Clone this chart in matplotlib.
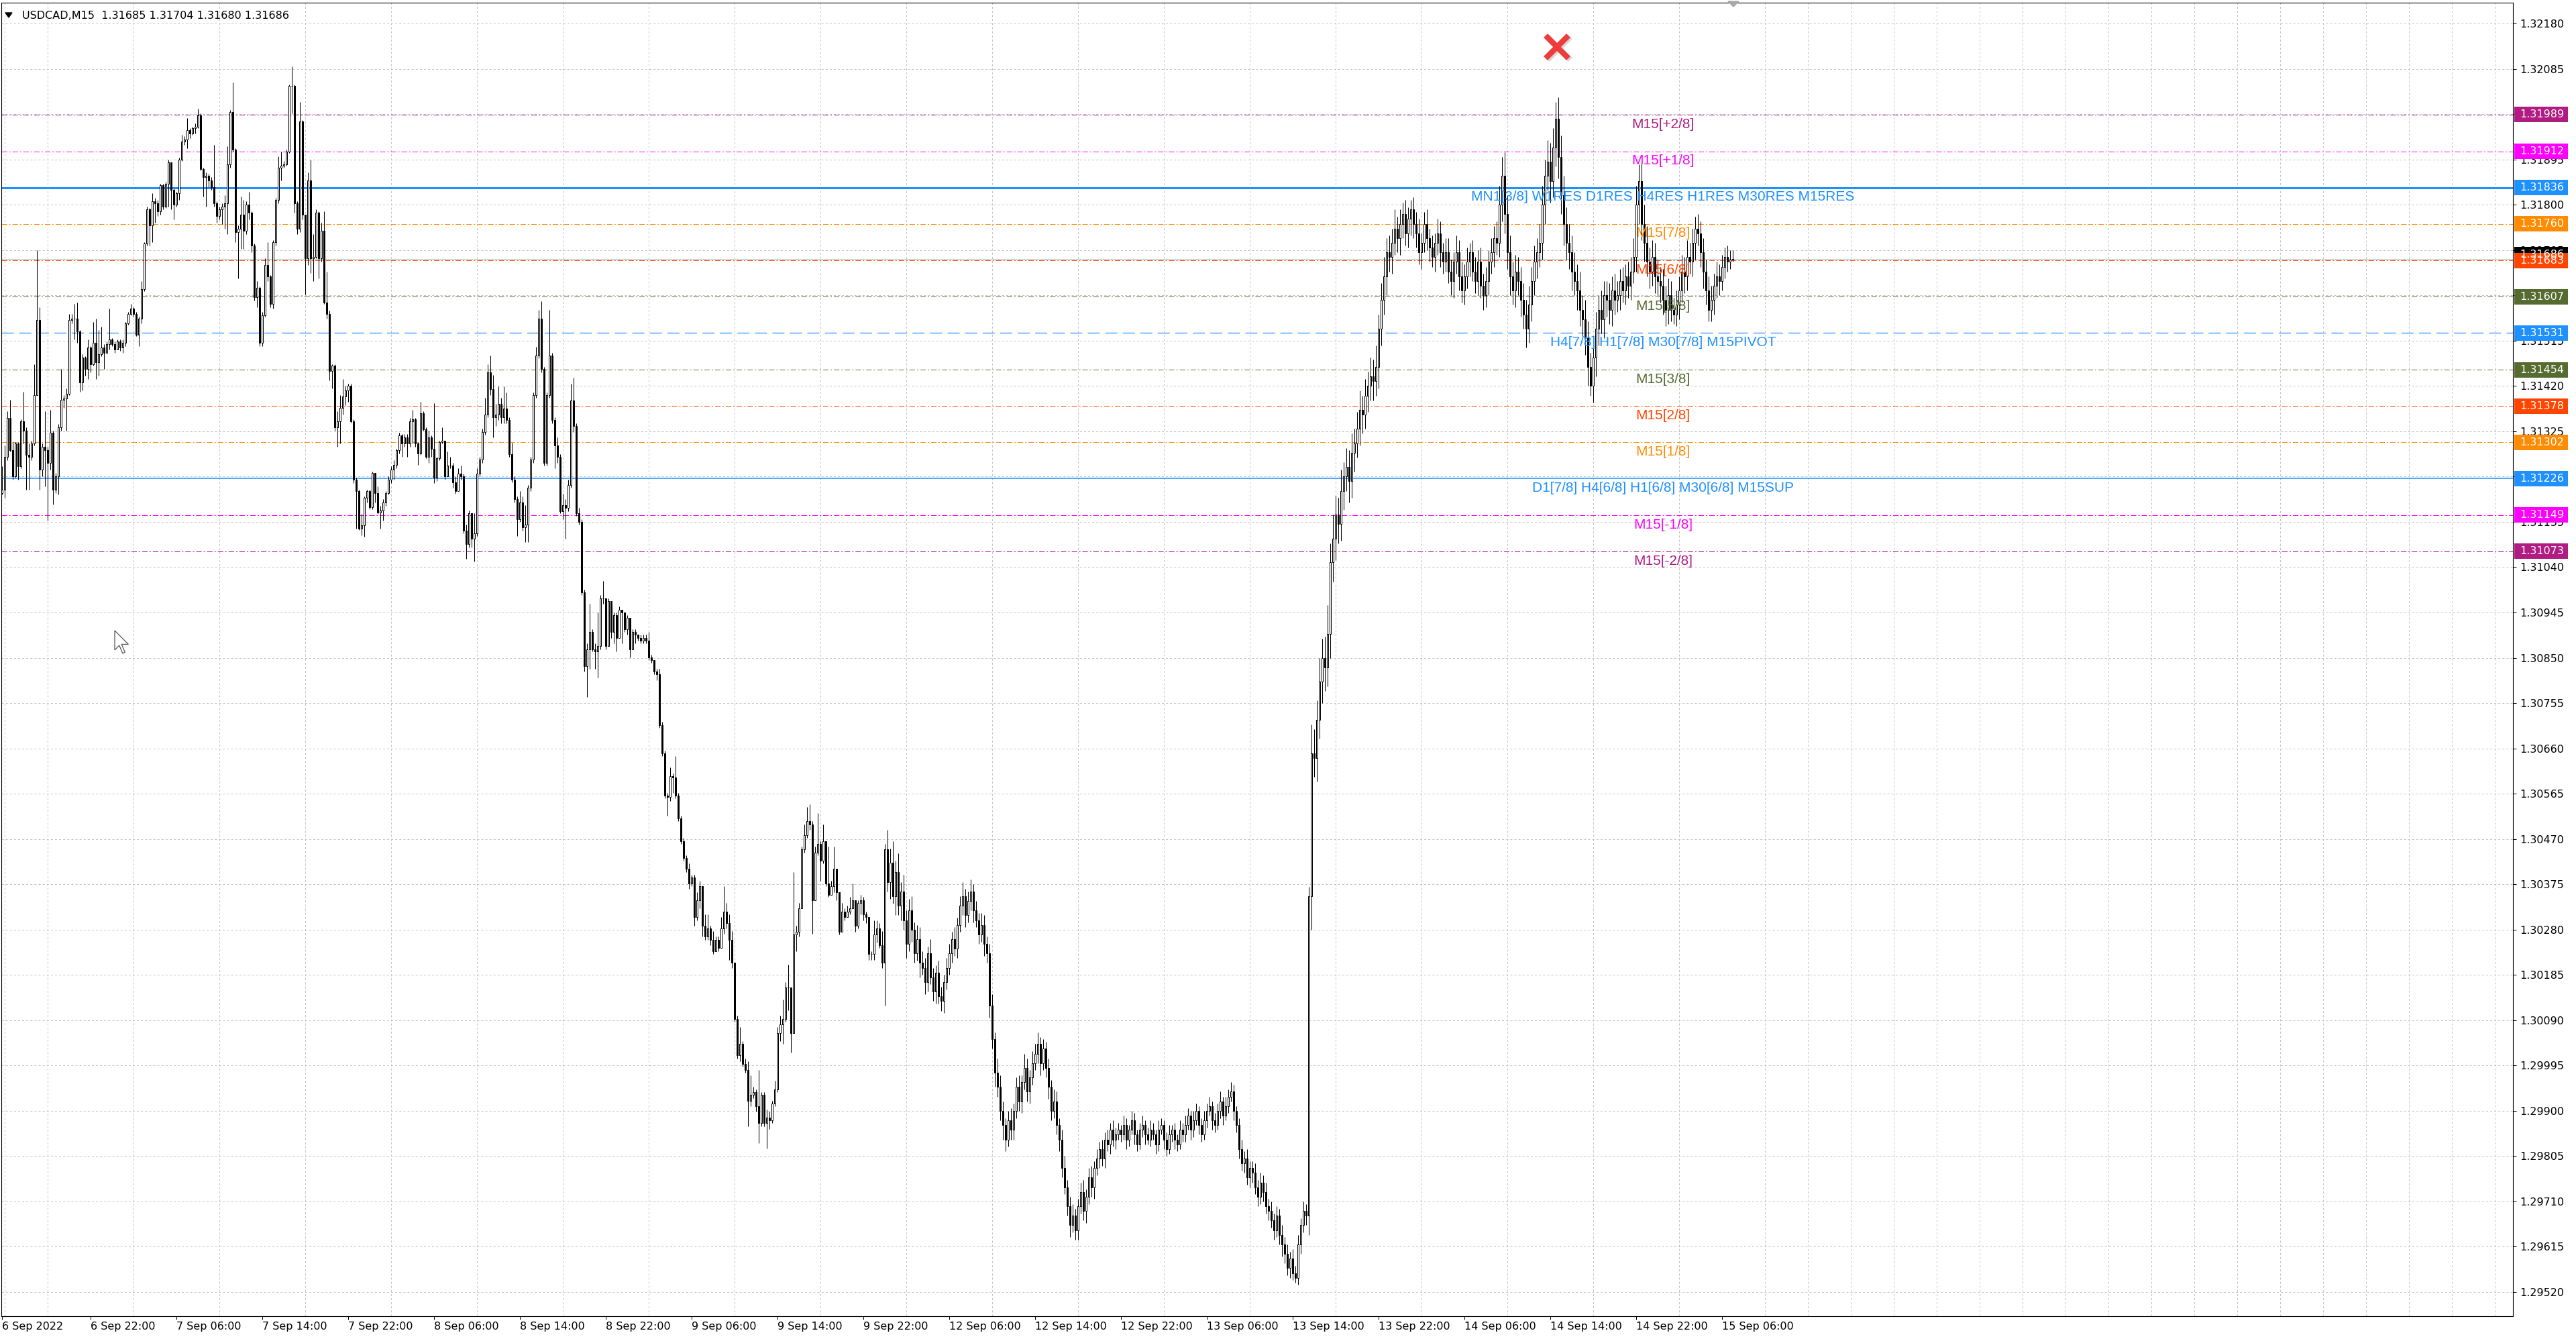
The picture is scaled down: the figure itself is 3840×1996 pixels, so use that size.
import numpy as np
import matplotlib.pyplot as plt
from matplotlib.patches import Rectangle, Polygon
import matplotlib.transforms as mtransforms

plt.rcParams['lines.scale_dashes'] = False

# prices are stored in points (0.00001) above BASE
BASE = 1.29
first_open = 2196

# 6 Sep 13:45 .. 8 Sep 06:45
seg1_close = [2203, 2271, 2353, 2285, 2230, 2299, 2251, 2346, 2326, 2275,
              2271, 2299, 2401, 2558, 2244, 2292, 2285, 2258, 2322, 2203,
              2230, 2333, 2391, 2394, 2404, 2558, 2561, 2561, 2534, 2428,
              2479, 2455, 2500, 2466, 2510, 2469, 2486, 2500, 2490, 2507,
              2517, 2507, 2496, 2513, 2500, 2510, 2551, 2571, 2582, 2571,
              2527, 2561, 2623, 2718, 2790, 2756, 2807, 2803, 2786, 2841,
              2796, 2844, 2889, 2831, 2800, 2824, 2895, 2933, 2936, 2957,
              2950, 2960, 2964, 2987, 2875, 2858, 2861, 2851, 2837, 2803,
              2776, 2790, 2796, 2803, 2885, 2994, 2916, 2742, 2749, 2779,
              2745, 2800, 2783, 2715, 2606, 2626, 2510, 2568, 2674, 2650,
              2592, 2721, 2810, 2878, 2882, 2885, 2912, 3049, 3049, 2803,
              2749, 2974, 2779, 2687, 2851, 2687, 2691, 2783, 2687, 2745,
              2595, 2571, 2452, 2462, 2333, 2346, 2374, 2398, 2411, 2421,
              2346, 2224, 2200, 2121, 2128, 2186, 2200, 2166, 2237, 2196,
              2155, 2159, 2176, 2196, 2224, 2244, 2254, 2285, 2316, 2299,
              2312, 2299, 2346, 2350, 2299, 2278, 2363, 2329, 2271, 2312,
              2288, 2227, 2268, 2302, 2305]
seg1_high = [2251, 2295, 2367, 2391, 2302, 2302, 2302, 2350, 2408, 2333,
             2299, 2305, 2466, 2704, 2585, 2299, 2367, 2292, 2370, 2326,
             2237, 2340, 2455, 2401, 2415, 2571, 2571, 2592, 2595, 2537,
             2486, 2483, 2517, 2503, 2554, 2561, 2537, 2544, 2507, 2513,
             2582, 2520, 2513, 2517, 2517, 2517, 2554, 2575, 2592, 2585,
             2575, 2565, 2640, 2721, 2796, 2793, 2824, 2814, 2810, 2844,
             2844, 2848, 2895, 2889, 2834, 2827, 2899, 2947, 2943, 2981,
             2960, 2964, 2970, 3001, 2991, 2878, 2868, 2865, 2858, 2926,
             2807, 2796, 2803, 2820, 2923, 2998, 3056, 2919, 2756, 2817,
             2810, 2807, 2827, 2786, 2718, 2640, 2629, 2575, 2687, 2721,
             2653, 2725, 2814, 2902, 2912, 2892, 2916, 3052, 3090, 3052,
             2807, 3015, 2977, 2779, 2868, 2895, 2738, 2790, 2786, 2762,
             2786, 2660, 2578, 2466, 2466, 2367, 2401, 2435, 2421, 2425,
             2425, 2350, 2227, 2203, 2152, 2189, 2203, 2203, 2241, 2230,
             2210, 2169, 2183, 2200, 2230, 2251, 2264, 2288, 2322, 2319,
             2319, 2319, 2353, 2370, 2353, 2302, 2387, 2367, 2333, 2326,
             2316, 2384, 2271, 2305, 2333]
seg1_low = [2193, 2186, 2264, 2282, 2224, 2227, 2224, 2247, 2299, 2203,
            2203, 2264, 2295, 2401, 2203, 2230, 2210, 2138, 2244, 2172,
            2196, 2193, 2326, 2374, 2326, 2401, 2551, 2517, 2510, 2408,
            2411, 2442, 2435, 2449, 2462, 2435, 2442, 2483, 2455, 2493,
            2496, 2503, 2490, 2500, 2493, 2490, 2503, 2548, 2568, 2565,
            2524, 2503, 2551, 2619, 2715, 2715, 2721, 2762, 2776, 2779,
            2790, 2793, 2796, 2790, 2769, 2796, 2810, 2892, 2926, 2919,
            2940, 2947, 2950, 2960, 2872, 2817, 2796, 2837, 2831, 2796,
            2762, 2769, 2759, 2749, 2738, 2878, 2912, 2721, 2646, 2708,
            2708, 2738, 2769, 2701, 2599, 2585, 2503, 2503, 2565, 2640,
            2585, 2582, 2715, 2803, 2851, 2878, 2882, 2909, 2991, 2783,
            2738, 2742, 2769, 2612, 2674, 2657, 2640, 2687, 2646, 2681,
            2592, 2561, 2432, 2415, 2326, 2292, 2299, 2360, 2380, 2387,
            2343, 2217, 2121, 2118, 2107, 2104, 2176, 2162, 2162, 2176,
            2152, 2121, 2138, 2169, 2193, 2217, 2224, 2247, 2278, 2271,
            2292, 2271, 2292, 2299, 2292, 2254, 2275, 2326, 2268, 2258,
            2271, 2217, 2220, 2264, 2299]

# 8 Sep 07:00 .. 9 Sep 23:45
seg2_close = [2230, 2253, 2253, 2218, 2200, 2236, 2230, 2117, 2088, 2153,
              2099, 2111, 2236, 2265, 2324, 2360, 2449, 2413, 2354, 2360,
              2383, 2354, 2372, 2348, 2277, 2224, 2182, 2141, 2176, 2123,
              2129, 2206, 2265, 2401, 2484, 2561, 2455, 2259, 2401, 2484,
              2348, 2295, 2271, 2158, 2170, 2164, 2212, 2389, 2336, 2153,
              2135, 1987, 1833, 1868, 1904, 1868, 1863, 1874, 1975, 1975,
              1874, 1969, 1904, 1940, 1892, 1951, 1945, 1910, 1934, 1868,
              1904, 1898, 1892, 1886, 1892, 1886, 1851, 1845, 1821, 1815,
              1709, 1650, 1561, 1558, 1602, 1599, 1561, 1513, 1466, 1430,
              1407, 1377, 1389, 1306, 1342, 1371, 1288, 1265, 1282, 1259,
              1235, 1259, 1241, 1282, 1318, 1294, 1259, 1211, 1093, 1016,
              1040, 998, 986, 921, 933, 939, 909, 874, 933, 874,
              886, 880, 915, 945, 1063, 1081, 1093, 1158, 1158, 1063,
              1270, 1276, 1324, 1448, 1478, 1507, 1501, 1342, 1442, 1460,
              1425, 1466, 1377, 1353, 1371, 1407, 1359, 1276, 1318, 1306,
              1318, 1324, 1342, 1288, 1336, 1342, 1312, 1306, 1229, 1229,
              1270, 1282, 1247, 1211]
seg2_high = [2265, 2283, 2271, 2259, 2230, 2247, 2253, 2236, 2129, 2159,
             2153, 2153, 2247, 2271, 2330, 2395, 2466, 2484, 2443, 2383,
             2419, 2395, 2419, 2407, 2354, 2301, 2230, 2188, 2200, 2188,
             2170, 2212, 2271, 2407, 2502, 2579, 2597, 2460, 2407, 2579,
             2490, 2354, 2312, 2277, 2194, 2182, 2224, 2425, 2437, 2342,
             2164, 2141, 1993, 1880, 1963, 1910, 1880, 1945, 1981, 2011,
             1975, 1975, 1969, 1945, 1945, 1957, 1951, 1945, 1940, 1916,
             1910, 1910, 1898, 1898, 1898, 1898, 1904, 1857, 1839, 1827,
             1827, 1715, 1655, 1567, 1620, 1608, 1644, 1567, 1519, 1472,
             1436, 1419, 1395, 1395, 1359, 1383, 1359, 1312, 1312, 1288,
             1277, 1265, 1265, 1306, 1371, 1336, 1312, 1277, 1211, 1099,
             1075, 1046, 1010, 1004, 975, 951, 945, 986, 939, 939,
             903, 898, 921, 963, 1075, 1099, 1134, 1170, 1206, 1134,
             1401, 1288, 1336, 1454, 1501, 1537, 1543, 1507, 1454, 1525,
             1466, 1501, 1466, 1454, 1383, 1454, 1407, 1359, 1336, 1324,
             1330, 1348, 1377, 1342, 1342, 1353, 1348, 1318, 1306, 1235,
             1300, 1300, 1294, 1277]
seg2_low = [2224, 2230, 2247, 2206, 2194, 2200, 2224, 2111, 2058, 2082,
            2082, 2052, 2105, 2230, 2259, 2318, 2354, 2401, 2312, 2336,
            2348, 2342, 2342, 2342, 2271, 2218, 2176, 2105, 2135, 2117,
            2093, 2093, 2200, 2259, 2395, 2478, 2449, 2253, 2253, 2395,
            2342, 2247, 2259, 2153, 2141, 2099, 2158, 2206, 2324, 2147,
            2129, 1981, 1821, 1768, 1827, 1863, 1827, 1809, 1868, 1963,
            1868, 1880, 1892, 1880, 1863, 1928, 1880, 1904, 1898, 1851,
            1874, 1880, 1886, 1880, 1880, 1880, 1845, 1839, 1815, 1803,
            1703, 1644, 1555, 1519, 1549, 1567, 1555, 1507, 1460, 1424,
            1401, 1365, 1371, 1288, 1300, 1324, 1265, 1259, 1259, 1247,
            1229, 1241, 1235, 1241, 1271, 1282, 1217, 1199, 1087, 1010,
            1004, 992, 980, 868, 909, 927, 898, 832, 868, 868,
            821, 862, 874, 909, 939, 1046, 1040, 1087, 1111, 1022,
            1063, 1235, 1265, 1324, 1442, 1472, 1489, 1271, 1377, 1436,
            1383, 1419, 1371, 1348, 1353, 1359, 1342, 1270, 1276, 1300,
            1306, 1312, 1324, 1276, 1282, 1312, 1300, 1294, 1217, 1217,
            1217, 1253, 1241, 1199]

# 12 Sep 00:00 .. 15 Sep 07:00 (closes, then shadow lengths above / below the body)
seg3_close = [1449, 1380, 1420, 1350, 1400, 1330, 1360,
              1300, 1250, 1320, 1280, 1230, 1260, 1210,
              1200, 1170, 1230, 1180, 1150, 1190, 1140, 1130, 1170, 1200,
              1230, 1260, 1240, 1290,
              1330, 1350, 1310, 1340, 1360, 1320,
              1300, 1270, 1290, 1250, 1230,
              1120, 1050, 980, 950,
              900, 870, 840, 880, 860,
              900, 950, 920, 960, 990, 940, 970, 1000,
              1020, 1040, 1000, 1030, 990,
              950, 900, 920, 870, 840,
              780, 740, 700, 660, 680, 650,
              700, 730, 690, 720, 760, 740, 780, 800,
              820, 800, 840, 830, 860, 840, 850,
              860, 850, 870, 840, 860, 880, 850, 830, 860, 870, 850, 840, 860,
              850, 830, 860, 870, 840, 820, 850, 860, 840, 830, 860, 850,
              870, 890, 860, 880, 900, 870, 850, 880, 900, 910, 880, 870,
              900, 920, 890, 910, 930, 940, 900, 870,
              820, 790, 800, 760, 780,
              770, 740, 720, 750, 730, 700,
              690, 670, 650, 680, 640, 620,
              600, 570, 590, 560, 550,
              620, 660, 690, 680,
              1350, 1650, 1640, 1720, 1800, 1850, 1830, 1900, 2050, 2100,
              2150, 2130, 2200, 2230, 2250, 2220, 2280, 2300, 2330, 2370,
              2360, 2400, 2420, 2440, 2430, 2460, 2540, 2600, 2650, 2700,
              2690, 2720, 2750, 2730, 2760, 2780, 2740, 2770, 2790, 2760,
              2740, 2700, 2720, 2760, 2730, 2710,
              2690, 2720, 2740, 2700, 2680, 2700,
              2660, 2640, 2680, 2700, 2650, 2620,
              2650, 2680, 2700, 2660, 2640, 2680,
              2630, 2610, 2640,
              2680, 2700, 2730, 2720,
              2800, 2860, 2780,
              2700, 2650, 2620, 2660, 2640,
              2600, 2570, 2540, 2590,
              2640, 2680, 2700, 2720,
              2800, 2860, 2890, 2850,
              2920, 2980, 2900,
              2820, 2760, 2720,
              2700, 2660, 2640,
              2620, 2580, 2560,
              2520, 2460, 2420, 2480,
              2540, 2580, 2560, 2610,
              2600, 2580, 2620, 2600,
              2610, 2640, 2620, 2650, 2630,
              2660, 2690,
              2800, 2850,
              2760, 2720,
              2680, 2660, 2690, 2650, 2640,
              2630, 2600, 2580, 2610,
              2580, 2570, 2590,
              2620, 2660, 2650, 2690, 2680,
              2720, 2750, 2740, 2700,
              2660, 2620, 2580,
              2600, 2630, 2650, 2640,
              2670, 2690, 2680, 2685, 2686]
seg3_upper = [10, 40, 30, 45, 25, 40, 20,
              35, 20, 25, 30, 15, 30, 25,
              25, 20, 15, 30, 20, 15, 25, 20, 15, 20,
              20, 15, 25, 15,
              20, 30, 15, 20, 25, 15,
              20, 15, 25, 20, 15,
              20, 25, 15, 30,
              25, 20, 15, 20, 25,
              15, 20, 25, 15, 30, 20, 15, 25,
              20, 25, 15, 20, 15,
              20, 15, 25, 20, 15,
              20, 25, 15, 20, 25, 15,
              15, 20, 25, 15, 20, 25, 15, 20,
              15, 20, 15, 20, 15, 20, 15,
              15, 10, 20, 15, 10, 20, 15, 10, 15, 20, 10, 15, 20,
              15, 10, 20, 15, 10, 15, 20, 10, 15, 10, 20, 15,
              20, 15, 10, 20, 15, 10, 15, 20, 15, 20, 10, 15,
              15, 20, 10, 20, 15, 20, 15, 10,
              15, 20, 15, 20, 15,
              15, 20, 15, 20, 15, 20,
              15, 20, 15, 20, 15, 20,
              15, 20, 15, 20, 15,
              20, 15, 20, 15,
              20, 60, 50, 40, 50, 40, 45, 60, 40, 50,
              40, 35, 45, 30, 40, 35, 40, 30, 35, 40,
              30, 35, 30, 40, 35, 45, 30, 35, 40, 30,
              35, 30, 40, 25, 30, 25, 30, 25, 20, 25,
              25, 30, 20, 25, 30, 20,
              25, 20, 30, 25, 20, 30,
              30, 25, 20, 35, 25, 30,
              25, 30, 20, 25, 30, 25,
              30, 25, 30,
              25, 30, 25, 35,
              40, 40, 50,
              40, 35, 30, 35, 30,
              30, 35, 30, 40,
              30, 35, 30, 40,
              40, 35, 45, 40,
              40, 35, 45,
              45, 40, 35,
              40, 35, 40,
              35, 40, 30,
              40, 35, 30, 40,
              35, 30, 40, 30,
              30, 35, 30, 35,
              30, 25, 30, 25, 30,
              30, 40,
              40, 35,
              45, 40,
              35, 30, 35, 30, 35,
              30, 35, 30, 35,
              30, 25, 30,
              30, 35, 30, 35, 30,
              30, 25, 30, 25,
              30, 25, 30,
              30, 25, 30, 25,
              25, 20, 25, 19, 18]
seg3_lower = [90, 20, 35, 15, 40, 20, 30,
              20, 30, 15, 25, 20, 15, 30,
              15, 25, 20, 15, 20, 25, 15, 20, 25, 15,
              15, 20, 15, 20,
              15, 20, 25, 15, 20, 25,
              15, 20, 15, 25, 20,
              25, 20, 30, 20,
              20, 30, 25, 15, 20,
              20, 15, 20, 25, 15, 20, 25, 15,
              15, 20, 25, 15, 20,
              25, 20, 15, 20, 25,
              20, 15, 20, 25, 15, 20,
              20, 15, 20, 25, 15, 20, 25, 15,
              20, 15, 20, 15, 20, 15, 20,
              10, 15, 10, 20, 15, 10, 20, 15, 10, 15, 20, 10, 15,
              10, 20, 15, 10, 20, 15, 10, 15, 20, 15, 10, 15,
              15, 10, 20, 15, 10, 20, 15, 10, 15, 10, 20, 15,
              10, 15, 20, 10, 15, 10, 20, 15,
              20, 15, 20, 15, 20,
              20, 15, 20, 15, 20, 15,
              20, 15, 20, 15, 20, 25,
              20, 15, 20, 15, 10,
              15, 20, 15, 20,
              40, 70, 40, 50, 40, 45, 50, 40, 50, 40,
              45, 40, 35, 40, 30, 45, 35, 40, 30, 35,
              40, 30, 35, 30, 40, 30, 45, 35, 30, 40,
              30, 35, 25, 30, 35, 30, 25, 30, 35, 30,
              30, 25, 35, 20, 25, 30,
              20, 30, 25, 30, 25, 20,
              25, 30, 35, 25, 30, 25,
              30, 25, 30, 20, 25, 30,
              25, 30, 25,
              30, 25, 30, 25,
              30, 35, 40,
              35, 40, 30, 35, 30,
              35, 30, 40, 30,
              35, 30, 35, 30,
              35, 40, 30, 45,
              35, 40, 45,
              40, 45, 35,
              35, 40, 30,
              40, 35, 40,
              35, 40, 20, 35,
              40, 35, 30, 40,
              35, 30, 35, 30,
              25, 30, 25, 30, 25,
              30, 25,
              30, 40,
              35, 40,
              30, 35, 30, 35, 30,
              35, 30, 35, 30,
              25, 20, 25,
              30, 25, 35, 30, 25,
              30, 35, 25, 30,
              35, 30, 25,
              25, 30, 25, 30,
              20, 25, 20, 15, 5]

price_ticks = [1.29520, 1.29615, 1.29710, 1.29805, 1.29900, 1.29995, 1.30090, 1.30185,
               1.30280, 1.30375, 1.30470, 1.30565, 1.30660, 1.30755, 1.30850, 1.30945,
               1.31040, 1.31135, 1.31230, 1.31325, 1.31420, 1.31515, 1.31610, 1.31705,
               1.31800, 1.31895, 1.31990, 1.32085, 1.32180]
time_labels = ['6 Sep 2022', '6 Sep 22:00', '7 Sep 06:00', '7 Sep 14:00', '7 Sep 22:00',
               '8 Sep 06:00', '8 Sep 14:00', '8 Sep 22:00', '9 Sep 06:00', '9 Sep 14:00',
               '9 Sep 22:00', '12 Sep 06:00', '12 Sep 14:00', '12 Sep 22:00', '13 Sep 06:00',
               '13 Sep 14:00', '13 Sep 22:00', '14 Sep 06:00', '14 Sep 14:00', '14 Sep 22:00',
               '15 Sep 06:00']
time_label_bars = [0] + [33 + 32 * k for k in range(20)]

level_prices = [1.31989, 1.31912, 1.31836, 1.31760, 1.31683, 1.31607, 1.31531,
                1.31454, 1.31378, 1.31302, 1.31226, 1.31149, 1.31073]
level_names = ['M15[+2/8]', 'M15[+1/8]',
               'MN1[3/8] W1RES D1RES H4RES H1RES M30RES M15RES',
               'M15[7/8]', 'M15[6/8]', 'M15[5/8]',
               'H4[7/8] H1[7/8] M30[7/8] M15PIVOT',
               'M15[3/8]', 'M15[2/8]', 'M15[1/8]',
               'D1[7/8] H4[6/8] H1[6/8] M30[6/8] M15SUP',
               'M15[-1/8]', 'M15[-2/8]']
PURPLE, MAGENTA, BLUE = '#B11C82', '#FF00FF', '#1E90FF'
ORANGE, ORED, OLIVE = '#FF8C00', '#FF4500', '#556B2F'
level_colors = [PURPLE, MAGENTA, BLUE, ORANGE, ORED, OLIVE, BLUE,
                OLIVE, ORED, ORANGE, BLUE, MAGENTA, PURPLE]
DASHDOT = (0, (5.8, 2.2, 1.4, 2.2))
level_styles = [DASHDOT, DASHDOT, '-', DASHDOT, DASHDOT, DASHDOT, (0, (13, 5.8)),
                DASHDOT, DASHDOT, DASHDOT, '-', DASHDOT, DASHDOT]
level_widths = [0.72, 0.72, 2.2, 0.72, 0.72, 0.72, 0.9, 0.72, 0.72, 0.72, 1.1, 0.72, 0.72]
bid_price = 1.31686
header = 'USDCAD,M15  1.31685 1.31704 1.31680 1.31686'

# ---- build OHLC
close = np.array(seg1_close + seg2_close + seg3_close) * 1e-5 + BASE
opn = np.r_[first_open * 1e-5 + BASE, close[:-1]]
n12 = len(seg1_close) + len(seg2_close)
high = np.r_[np.array(seg1_high + seg2_high) * 1e-5 + BASE,
             np.maximum(opn[n12:], close[n12:]) + np.array(seg3_upper) * 1e-5]
low = np.r_[np.array(seg1_low + seg2_low) * 1e-5 + BASE,
            np.minimum(opn[n12:], close[n12:]) - np.array(seg3_lower) * 1e-5]
x = np.arange(len(close))

W, H = 3840, 1996
fig = plt.figure(figsize=(W / 100, H / 100), dpi=100)
ax = fig.add_axes([2 / W, 34 / H, 3744 / W, 1958 / H])
ax.set_xlim(-0.25, 935.75)
ax.set_ylim(1.294694, 1.322236)

# grid
GRID = (0, (2.2, 2.2))
ax.set_yticks(price_ticks)
ax.set_yticklabels(['%.5f' % p for p in price_ticks])
ax.set_xticks(time_label_bars)
ax.set_xticklabels(time_labels, ha='left')
ax.set_xticks([1 + 16 * k for k in range(59)], minor=True)
ax.grid(axis='y', which='major', color='#c4c4c4', lw=0.72, ls=GRID)
ax.grid(axis='x', which='minor', color='#c4c4c4', lw=0.72, ls=GRID)
ax.set_axisbelow(True)
ax.yaxis.tick_right()
ax.tick_params(axis='y', which='major', length=3.6, width=0.72, pad=3.6,
               labelsize=11.5, colors='black')
ax.tick_params(axis='x', which='major', length=3.6, width=0.72, pad=2,
               labelsize=11.5)
ax.tick_params(axis='x', which='minor', length=0)
for s in ax.spines.values():
    s.set_linewidth(0.8)

# levels
for p, c, ls, lw in zip(level_prices, level_colors, level_styles, level_widths):
    ax.axhline(p, color=c, ls=ls, lw=lw, zorder=1.5)
ax.axhline(bid_price, color='#c0c0c0', lw=0.72, zorder=1.4)

# candles
ax.vlines(x, low, high, color='black', lw=0.75, zorder=3)
bull = close >= opn
ax.bar(x[bull], (close - opn)[bull], bottom=opn[bull], width=0.55,
       facecolor='white', edgecolor='black', linewidth=0.72, zorder=4)
ax.bar(x[~bull], (close - opn)[~bull], bottom=opn[~bull], width=0.55,
       facecolor='black', edgecolor='black', linewidth=0.72, zorder=4)

# level texts
for p, c, name in zip(level_prices, level_colors, level_names):
    ax.annotate(name, (619, p), xytext=(0, -3.5), textcoords='offset points',
                ha='center', va='top', color=c, fontsize=15,
                family='Liberation Sans', zorder=6)

# price tags on the right axis
bt = mtransforms.blended_transform_factory(ax.transAxes, ax.transData)
tag_h = 23 / 71090
def tag(price, color, yshift=0.0):
    ax.add_patch(Rectangle((1.0006, price + yshift - tag_h / 2), 80 / 3744, tag_h,
                           transform=bt, facecolor=color, edgecolor='none',
                           clip_on=False, zorder=10))
    ax.text(1.0027, price + yshift, '%.5f' % price, transform=bt, color='white',
            fontsize=11.5, va='center', ha='left', clip_on=False, zorder=11)

tag(bid_price, 'black', 0.00009)
for p, c in zip(level_prices, level_colors):
    tag(p, c)

# red cross above the top
ax.plot(580.2, 1.32128, marker='x', ms=24, mew=6, color='#b0b0b0', alpha=0.5, zorder=7)
ax.plot(579.5, 1.32131, marker='x', ms=24, mew=6, color='#EE3B3B', zorder=8)

# header
fig.text(33 / W, 1 - 24 / H, header, fontsize=11.5, va='center', ha='left')
fig.add_artist(Polygon([[8 / W, 1 - 19 / H], [18 / W, 1 - 19 / H], [13 / W, 1 - 26 / H]],
                       closed=True, transform=fig.transFigure, color='black'))
# chart shift marker
fig.add_artist(Polygon([[2576 / W, 1 - 2 / H], [2592 / W, 1 - 2 / H], [2584 / W, 1 - 10 / H]],
                       closed=True, transform=fig.transFigure, color='#a8a8a8'))
# mouse pointer
cur = np.array([[0, 0], [0, 17], [4, 13], [7, 20], [9, 19], [6, 12], [12, 12]]) * 1.7
cur = cur + [171, 940]
fig.add_artist(Polygon([[px / W, 1 - py / H] for px, py in cur], closed=True,
                       transform=fig.transFigure, facecolor='white',
                       edgecolor='#555555', lw=0.9))

fig.savefig('out.png', dpi=100)
